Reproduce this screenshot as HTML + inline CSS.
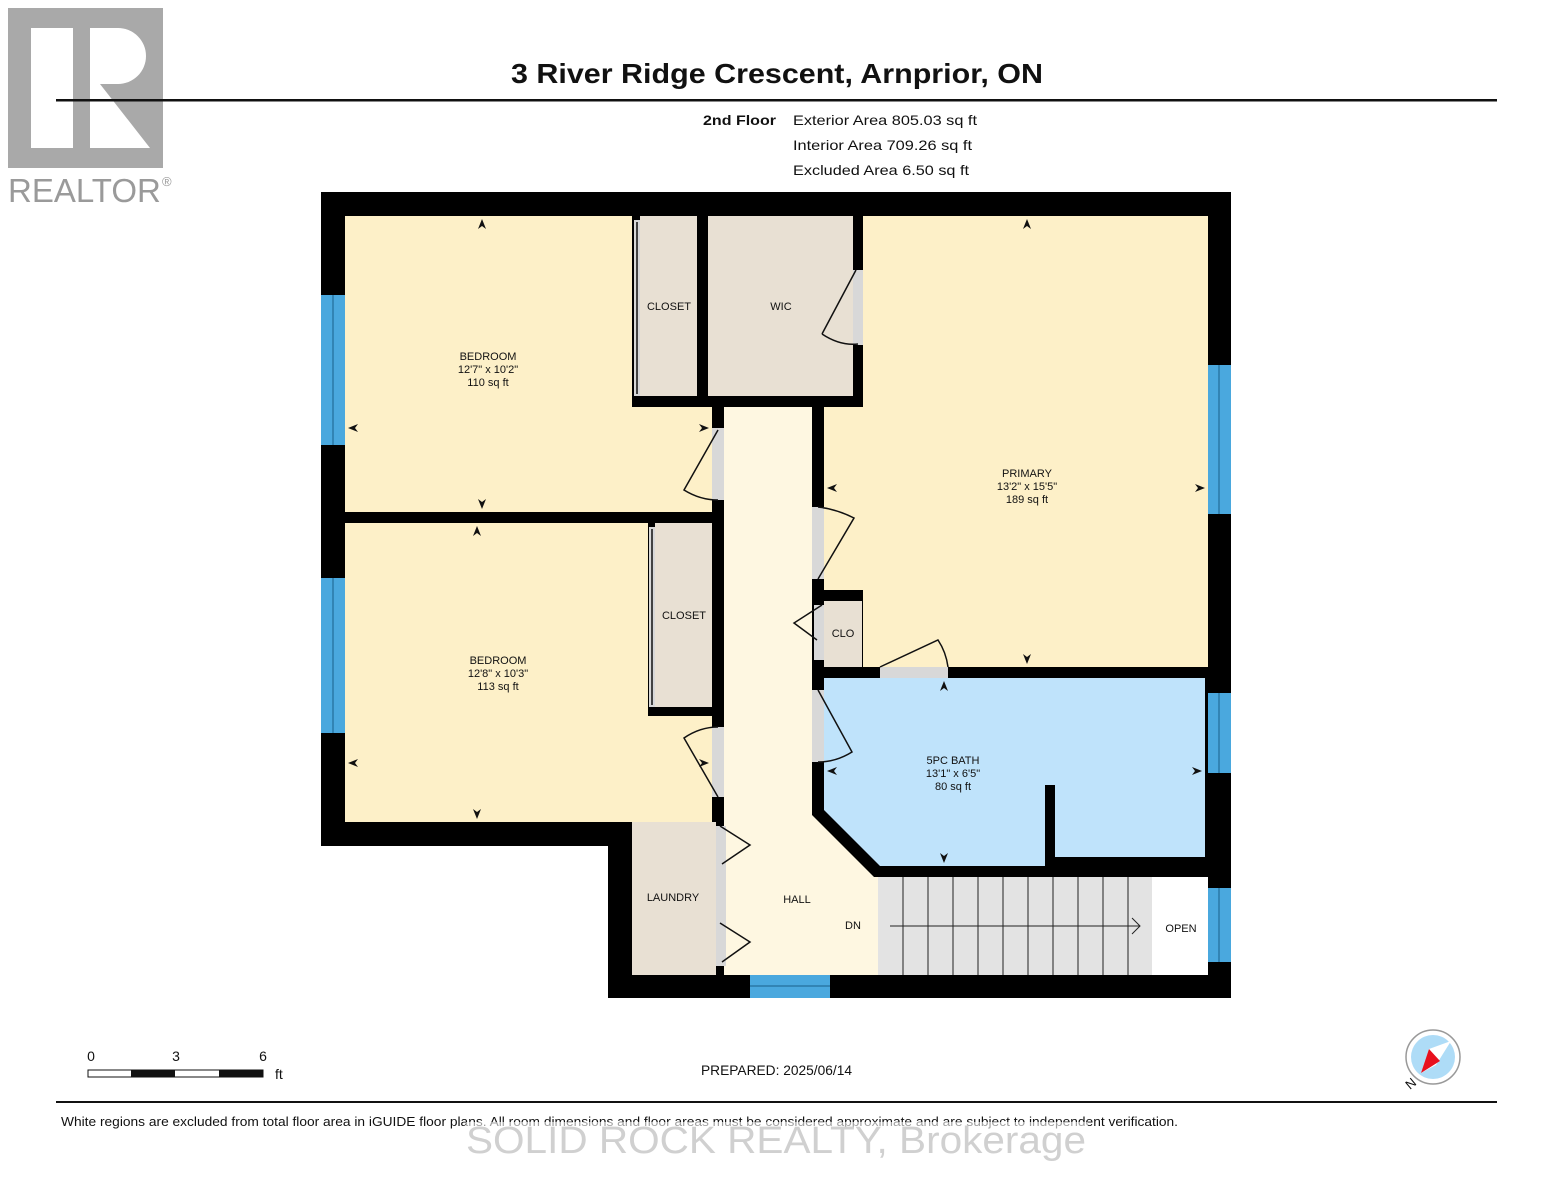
<!DOCTYPE html>
<html><head><meta charset="utf-8"><style>
html,body{margin:0;padding:0;background:#fff;}
svg{display:block;font-family:"Liberation Sans",Arial,sans-serif;}
</style></head><body>
<svg width="1553" height="1200" viewBox="0 0 1553 1200" xmlns="http://www.w3.org/2000/svg">
<rect width="1553" height="1200" fill="#fff"/>
<!-- logo -->
<rect x="8" y="8" width="155" height="160" fill="#a9a9a9"/>
<rect x="31" y="28" width="42" height="120" fill="#fff"/>
<path d="M90 28 H118 A28 28 0 0 1 118 84 H100 L150 148 H90 Z" fill="#fff"/>
<text x="8" y="202" font-size="33" fill="#9a9a9a">REALTOR</text>
<text x="162" y="186" font-size="13" fill="#9a9a9a">®</text>
<!-- header -->
<text x="511" y="83" font-size="28" font-weight="bold" fill="#111" textLength="532" lengthAdjust="spacingAndGlyphs">3 River Ridge Crescent, Arnprior, ON</text>
<rect x="56" y="99" width="1441" height="2.5" fill="#111"/>
<text x="703" y="125" font-size="14" font-weight="bold" fill="#111" textLength="73" lengthAdjust="spacingAndGlyphs">2nd Floor</text>
<g font-size="14" fill="#111">
<text x="793" y="125" textLength="184" lengthAdjust="spacingAndGlyphs">Exterior Area 805.03 sq ft</text>
<text x="793" y="150" textLength="179" lengthAdjust="spacingAndGlyphs">Interior Area 709.26 sq ft</text>
<text x="793" y="175" textLength="176" lengthAdjust="spacingAndGlyphs">Excluded Area 6.50 sq ft</text>
</g>
<!-- walls base -->
<path d="M321 192 H1231 V998 H608 V846 H321 Z" fill="#000"/>
<!-- rooms -->
<path d="M345 216 H632 V407 H712 V512 H345 Z" fill="#fdf0c8"/>
<path d="M345 523 H648 V716 H712 V822 H345 Z" fill="#fdf0c8"/>
<rect x="863" y="216" width="345" height="451" fill="#fdf0c8"/>
<rect x="824" y="407" width="40" height="183" fill="#fdf0c8"/>
<rect x="640" y="216" width="57" height="180" fill="#e8e0d3"/>
<rect x="708" y="216" width="145" height="180" fill="#e8e0d3"/>
<rect x="655" y="523" width="57" height="184" fill="#e8e0d3"/>
<rect x="632" y="822" width="84" height="153" fill="#e8e0d3"/>
<rect x="824" y="601" width="38" height="66" fill="#e8e0d3"/>
<path d="M724 407 H812 V815 L874 877 H878 V975 H724 Z" fill="#fef7e1"/>
<path d="M824 678 H1205 V857 H1055 V785 H1045 V866 H880 L824 810 Z" fill="#bfe3fb"/>
<!-- stairs -->
<rect x="878" y="877" width="274" height="98" fill="#e3e3e3"/>
<g stroke="#222" stroke-width="1">
<line x1="903" y1="877" x2="903" y2="975"/><line x1="928" y1="877" x2="928" y2="975"/><line x1="953" y1="877" x2="953" y2="975"/><line x1="978" y1="877" x2="978" y2="975"/><line x1="1003" y1="877" x2="1003" y2="975"/><line x1="1028" y1="877" x2="1028" y2="975"/><line x1="1053" y1="877" x2="1053" y2="975"/><line x1="1078" y1="877" x2="1078" y2="975"/><line x1="1103" y1="877" x2="1103" y2="975"/><line x1="1128" y1="877" x2="1128" y2="975"/>
<line x1="890" y1="926" x2="1140" y2="926"/>
<polyline points="1132,918 1140,926 1132,934" fill="none"/>
</g>
<rect x="1152" y="877" width="56" height="98" fill="#fff"/>
<!-- windows -->
<g fill="#4aa8de">
<rect x="321" y="295" width="24" height="150"/><rect x="321" y="578" width="24" height="155"/>
<rect x="1208" y="365" width="23" height="149"/><rect x="1208" y="693" width="23" height="80"/><rect x="1208" y="888" width="23" height="74"/>
<rect x="750" y="975" width="80" height="23"/>
</g>
<g stroke="#1b5f8a" stroke-width="1">
<line x1="333" y1="295" x2="333" y2="445"/><line x1="333" y1="578" x2="333" y2="733"/>
<line x1="1219" y1="365" x2="1219" y2="514"/><line x1="1219" y1="693" x2="1219" y2="773"/><line x1="1219" y1="888" x2="1219" y2="962"/>
<line x1="750" y1="986" x2="830" y2="986"/>
</g>
<!-- door openings (grey) -->
<g fill="#d8d8d8">
<rect x="712" y="428" width="12" height="72"/>
<rect x="812" y="507" width="12" height="72"/>
<rect x="814" y="605" width="10" height="55"/>
<rect x="880" y="667" width="68" height="11"/>
<rect x="812" y="690" width="12" height="72"/>
<rect x="712" y="727" width="12" height="70"/>
<rect x="716" y="826" width="10" height="140"/>
<rect x="853" y="270" width="10" height="75"/>
<rect x="634" y="220" width="6" height="176"/>
<rect x="649" y="527" width="6" height="180"/>
</g>
<!-- door swings -->
<g stroke="#111" stroke-width="1.5" fill="none">
<path d="M718 430 L684 490 Q700 500 718 500"/>
<path d="M818 579 L854 518 Q836 509 818 507"/>
<path d="M822 605 L794 623 L817 640"/>
<path d="M880 667 L938 640 Q946 652 948 667"/>
<path d="M818 690 L852 752 Q836 762 818 762"/>
<path d="M718 797 L684 738 Q700 727 718 727"/>
<path d="M720 826 L750 845 L722 864"/>
<path d="M720 923 L750 942 L722 962"/>
<path d="M822 334 L856 270"/>
<path d="M822 334 Q840 346 858 344"/>
<line x1="637" y1="222" x2="637" y2="394"/><line x1="652" y1="529" x2="652" y2="705"/>
</g>
<!-- dimension arrows -->
<g fill="#111">
<path d="M482 219 l-4 10 l4 -3 l4 3 z"/><path d="M482 509 l-4 -10 l4 3 l4 -3 z"/>
<path d="M348 428 l10 -4 l-3 4 l3 4 z"/><path d="M709 428 l-10 -4 l3 4 l-3 4 z"/>
<path d="M477 526 l-4 10 l4 -3 l4 3 z"/><path d="M477 819 l-4 -10 l4 3 l4 -3 z"/>
<path d="M348 763 l10 -4 l-3 4 l3 4 z"/><path d="M709 763 l-10 -4 l3 4 l-3 4 z"/>
<path d="M1027 219 l-4 10 l4 -3 l4 3 z"/><path d="M1027 664 l-4 -10 l4 3 l4 -3 z"/>
<path d="M827 488 l10 -4 l-3 4 l3 4 z"/><path d="M1205 488 l-10 -4 l3 4 l-3 4 z"/>
<path d="M944 681 l-4 10 l4 -3 l4 3 z"/><path d="M944 863 l-4 -10 l4 3 l4 -3 z"/>
<path d="M827 771 l10 -4 l-3 4 l3 4 z"/><path d="M1202 771 l-10 -4 l3 4 l-3 4 z"/>
</g>
<!-- labels -->
<g font-size="11" fill="#111" text-anchor="middle">
<text x="488" y="360">BEDROOM</text><text x="488" y="373">12'7" x 10'2"</text><text x="488" y="386">110 sq ft</text>
<text x="498" y="664">BEDROOM</text><text x="498" y="677">12'8" x 10'3"</text><text x="498" y="690">113 sq ft</text>
<text x="1027" y="477">PRIMARY</text><text x="1027" y="490">13'2" x 15'5"</text><text x="1027" y="503">189 sq ft</text>
<text x="953" y="764">5PC BATH</text><text x="953" y="777">13'1" x 6'5"</text><text x="953" y="790">80 sq ft</text>
<text x="669" y="310">CLOSET</text><text x="781" y="310">WIC</text><text x="684" y="619">CLOSET</text>
<text x="843" y="637">CLO</text><text x="673" y="901">LAUNDRY</text><text x="797" y="903">HALL</text>
<text x="853" y="929">DN</text><text x="1181" y="932">OPEN</text>
</g>
<!-- scale -->
<g font-size="14" fill="#111">
<text x="91" y="1061" text-anchor="middle">0</text><text x="176" y="1061" text-anchor="middle">3</text><text x="263" y="1061" text-anchor="middle">6</text><text x="275" y="1079">ft</text>
</g>
<rect x="88" y="1070" width="175" height="7" fill="#fff" stroke="#111" stroke-width="1"/>
<rect x="131" y="1070" width="44" height="7" fill="#111"/><rect x="219" y="1070" width="44" height="7" fill="#111"/>
<text x="701" y="1075" font-size="14" fill="#111" textLength="151" lengthAdjust="spacingAndGlyphs">PREPARED: 2025/06/14</text>
<!-- compass -->
<circle cx="1433" cy="1057" r="27" fill="#fff" stroke="#999" stroke-width="1.5"/>
<circle cx="1433" cy="1057" r="22" fill="#aedcf7"/>
<path d="M1451 1041 L1436 1065 L1421 1073 L1429 1049 Z" fill="#fff"/>
<path d="M1421 1073 L1429 1049 L1440 1061 Z" fill="#e8101e"/>
<text x="1410" y="1090" font-size="13" fill="#111" transform="rotate(-40 1410 1090)">N</text>
<rect x="56" y="1101" width="1441" height="2" fill="#111"/>
<text x="61" y="1126" font-size="13" fill="#111" textLength="1117" lengthAdjust="spacingAndGlyphs">White regions are excluded from total floor area in iGUIDE floor plans. All room dimensions and floor areas must be considered approximate and are subject to independent verification.</text>
<rect x="466" y="1122" width="622" height="38" fill="#fff" opacity="0.6"/>
<text x="466" y="1153" font-size="38" fill="#d0d0d0" textLength="620" lengthAdjust="spacingAndGlyphs">SOLID ROCK REALTY, Brokerage</text>
</svg>
</body></html>
